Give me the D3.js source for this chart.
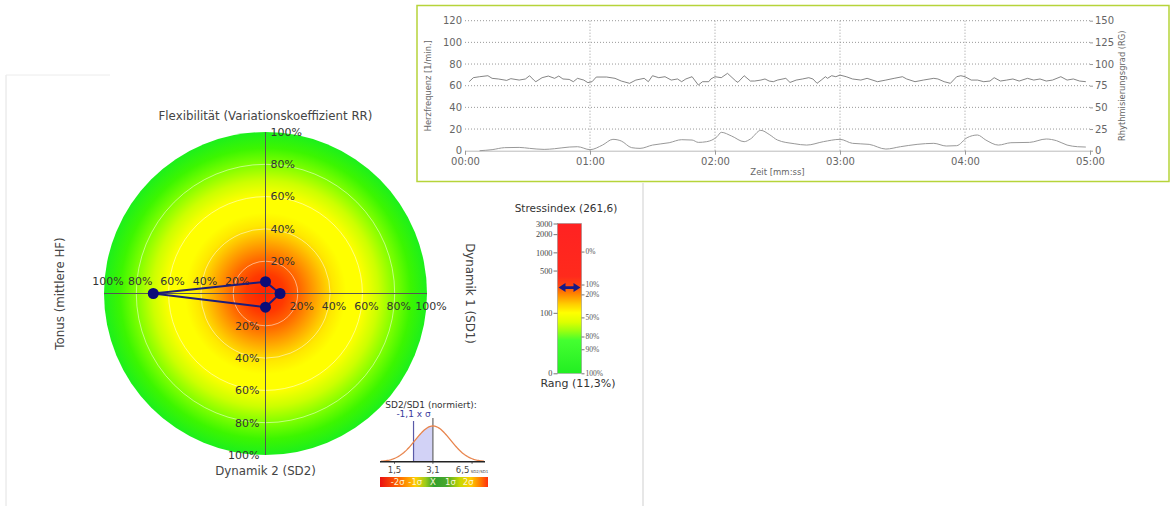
<!DOCTYPE html>
<html>
<head>
<meta charset="utf-8">
<script src="https://cdnjs.cloudflare.com/ajax/libs/d3/7.8.5/d3.min.js"></script>
<style>
  body { margin: 0; background: #fff; }
  svg text { font-family: "DejaVu Sans", Verdana, sans-serif; }
</style>
</head>
<body>
<svg id="chart" width="1172" height="506"></svg>
<script>
// ---------- data ----------
// herzfrequenz (top line), seconds / bpm
var hrSeconds = [2, 4, 7, 11, 13, 16, 20, 22, 26, 29,
	31, 33, 34, 37, 40, 43, 45, 47, 50, 52,
	54, 57, 59, 61, 63, 68, 72, 75, 79, 82,
	86, 88, 90, 93, 96, 99, 102, 104, 106, 109,
	112, 114, 117, 118, 120, 123, 126, 130, 131, 134,
	137, 139, 142, 144, 146, 148, 150, 154, 156, 159,
	162, 165, 167, 169, 171, 173, 174, 176, 178, 180,
	183, 186, 190, 193, 198, 202, 206, 210, 212, 216,
	220, 225, 227, 230, 233, 236, 238, 240, 243, 246,
	249, 252, 254, 257, 260, 263, 266, 270, 273, 276,
	279, 282, 286, 289, 292, 295, 298];
var hrValues = [63.7, 67.4, 68.3, 69.2, 66.8, 66.2, 64.9, 66.5, 65.2, 66.2,
	69.2, 65.2, 63.7, 67.4, 68.9, 66.8, 68.9, 66.2, 65.8, 63.7,
	66.8, 65.2, 62.8, 63.7, 68.0, 68.0, 66.8, 64.3, 62.2, 65.2,
	66.8, 63.7, 69.2, 67.4, 68.3, 65.2, 66.2, 63.7, 66.2, 68.3,
	60.6, 63.7, 63.7, 66.2, 68.3, 67.4, 71.4, 64.3, 63.1, 69.2,
	64.3, 64.3, 65.2, 66.2, 64.3, 63.7, 65.2, 66.8, 63.0, 65.2,
	66.2, 67.4, 66.2, 62.2, 65.2, 68.3, 66.8, 69.2, 68.3, 69.8,
	68.3, 66.2, 65.2, 66.8, 63.7, 65.2, 66.8, 68.3, 66.2, 63.7,
	65.2, 66.8, 66.2, 63.7, 62.2, 68.3, 69.2, 68.3, 65.2, 65.2,
	63.7, 64.3, 67.4, 64.3, 65.2, 66.2, 64.3, 66.8, 65.2, 66.2,
	64.3, 65.2, 68.3, 65.2, 66.2, 64.3, 63.7];

// rhythmisierungsgrad (bottom line), seconds / RG
var rgSeconds = [7, 13, 19, 26, 31, 38, 43, 50, 54, 60,
	66, 71, 75, 80, 84, 90, 98, 104, 109, 112,
	116, 121, 123, 128, 134, 137, 142, 146, 150, 158,
	164, 172, 180, 186, 194, 202, 209, 217, 225, 231,
	236, 241, 246, 250, 256, 262, 271, 279, 284, 289,
	294, 298];
var rgValues = [0, 1.2, 3.5, 3.8, 2.7, 1.5, 2.3, 4.2, 4.6, 1.2,
	6.5, 13.1, 11.2, 3.5, 2.7, 6.5, 9.2, 12.7, 12.3, 9.6,
	10.4, 16.2, 21.2, 16.9, 10.4, 13.5, 23.5, 18.8, 12.3, 8.1,
	6.5, 10.4, 13.1, 8.5, 7.3, 1.9, 4.6, 7.3, 8.5, 5.4,
	5.8, 15.0, 18.1, 12.3, 6.5, 9.2, 9.6, 13.5, 11.5, 6.5,
	4.6, 4.2];

var xTickSeconds = [0, 60, 120, 180, 240, 300];
var xTickLabels = ['00:00', '01:00', '02:00', '03:00', '04:00', '05:00'];
var leftTicks = [0, 20, 40, 60, 80, 100, 120];
var rightTicks = [0, 25, 50, 75, 100, 125, 150];

// polar chart (top, right, bottom, left)
var polarAxes = ['Flexibilität (Variationskoeffizient RR)', 'Dynamik 1 (SD1)',
	'Dynamik 2 (SD2)', 'Tonus (mittlere HF)'];
var polarValues = [7.3, 9.0, 8.5, 69.5];
var ringTicks = [20, 40, 60, 80, 100];

// stressindex
var stressValue = 261.6;
var stressTicks = [10, 100, 500, 1000, 2000, 3000];
var stressTickLabels = ['0', '100', '500', '1000', '2000', '3000'];
var rankStress = [1030, 294, 202, 84, 40.6, 25, 10];
var rankLabels = ['0%', '10%', '20%', '50%', '80%', '90%', '100%'];
var rankValue = 11.3;

// SD2/SD1 normiert
var sdMean = 3.1;
var sdSigmaLn = 0.333;
var sdZ = -1.1;
var sdTicks = [1.5, 3.1, 6.5];
var sdTickLabels = ['1,5', '3,1', '6,5'];
var sigmaSteps = [-2, -1, 0, 1, 2];
var sigmaLabels = ['-2σ', '-1σ', 'X̄', '1σ', '2σ'];

var fmt = function(v) { return String(v).replace('.', ','); };

var svg = d3.select('#chart');
var defs = svg.append('defs');

// ---------- panel frame ----------
svg.append('line').attr('x1', 6).attr('x2', 6).attr('y1', 75).attr('y2', 506)
	.attr('stroke', '#e2e2e2');
svg.append('line').attr('x1', 6).attr('x2', 110).attr('y1', 75).attr('y2', 75)
	.attr('stroke', '#ececec');
svg.append('line').attr('x1', 643).attr('x2', 643).attr('y1', 183).attr('y2', 506)
	.attr('stroke', '#cfcfcf');

// ---------- line chart (top right) ----------
var lc = {left: 465, right: 1090, top: 20.7, bottom: 150.7};

svg.append('rect')
	.attr('x', 417).attr('y', 5.5).attr('width', 752).attr('height', 176)
	.attr('fill', '#fff').attr('stroke', '#b6d43a').attr('stroke-width', 1.5);

var x = d3.scaleLinear().domain([0, 300]).range([lc.left, lc.right]);
var yL = d3.scaleLinear().domain([0, 120]).range([lc.bottom, lc.top]);
var yR = d3.scaleLinear().domain([0, 150]).range([lc.bottom, lc.top]);

var lineChart = svg.append('g');

// grid
lineChart.selectAll('.hgrid')
	.data(leftTicks.filter(function(d) { return d > 0; }))
.enter().append('line')
	.attr('x1', lc.left).attr('x2', lc.right)
	.attr('y1', function(d) { return yL(d); })
	.attr('y2', function(d) { return yL(d); })
	.attr('stroke', '#999').attr('stroke-dasharray', '1,2');

lineChart.selectAll('.vgrid')
	.data(xTickSeconds.slice(1, -1))
.enter().append('line')
	.attr('x1', function(d) { return x(d); })
	.attr('x2', function(d) { return x(d); })
	.attr('y1', lc.top).attr('y2', lc.bottom)
	.attr('stroke', '#999').attr('stroke-dasharray', '1,2');

// axes
var xAxis = d3.axisBottom(x).tickValues(xTickSeconds)
	.tickFormat(function(d, i) { return xTickLabels[i]; })
	.tickSize(4).tickPadding(3);
var gx = lineChart.append('g')
	.attr('transform', 'translate(0,' + lc.bottom + ')')
	.call(xAxis);
gx.select('.domain').attr('stroke', '#bbb');

var gyl = lineChart.append('g')
	.attr('transform', 'translate(' + lc.left + ',0)')
	.call(d3.axisLeft(yL).tickValues(leftTicks).tickSize(0).tickPadding(3));
var gyr = lineChart.append('g')
	.attr('transform', 'translate(' + lc.right + ',0)')
	.call(d3.axisRight(yR).tickValues(rightTicks).tickSize(3).tickPadding(2));
gyl.select('.domain').remove();
gyr.select('.domain').remove();

lineChart.selectAll('.tick text')
	.attr('fill', '#666').style('font-size', '10px')
	.style('font-family', '"DejaVu Sans", Verdana, sans-serif');
lineChart.selectAll('.tick line').attr('stroke', '#999');

// titles
lineChart.append('text')
	.attr('x', (lc.left + lc.right) / 2).attr('y', 175)
	.attr('text-anchor', 'middle').attr('fill', '#666')
	.style('font-size', '8.5px').text('Zeit [mm:ss]');
lineChart.append('text')
	.attr('transform', 'translate(431,' + (lc.top + lc.bottom) / 2 + ') rotate(-90)')
	.attr('text-anchor', 'middle').attr('fill', '#666')
	.style('font-size', '8.3px').text('Herzfrequenz [1/min.]');
lineChart.append('text')
	.attr('transform', 'translate(1125,' + (lc.top + lc.bottom) / 2 + ') rotate(-90)')
	.attr('text-anchor', 'middle').attr('fill', '#666')
	.style('font-size', '8.3px').text('Rhythmisierungsgrad (RG)');

// lines
var hrLine = d3.line()
	.x(function(d, i) { return x(hrSeconds[i]); })
	.y(function(d) { return yL(d); });
lineChart.append('path')
	.attr('d', hrLine(hrValues))
	.attr('fill', 'none').attr('stroke', '#666').attr('stroke-width', 0.8);

var rgLine = d3.line()
	.x(function(d, i) { return x(rgSeconds[i]); })
	.y(function(d) { return yR(d); })
	.curve(d3.curveMonotoneX);
lineChart.append('path')
	.attr('d', rgLine(rgValues))
	.attr('fill', 'none').attr('stroke', '#999').attr('stroke-width', 1);

// ---------- polar chart ----------
var cx = 265.5, cy = 293.5, R = 161.5;
var r = d3.scaleLinear().domain([0, 100]).range([0, R]);
var angle = function(i) { return (-90 + i * 90) * Math.PI / 180; };

var rg = defs.append('radialGradient').attr('id', 'polarGrad')
	.attr('gradientUnits', 'userSpaceOnUse')
	.attr('cx', cx).attr('cy', cy).attr('r', R);
[[0, '#ff2000'], [0.12, '#ff3a00'], [0.22, '#ff6c00'], [0.32, '#ffaa00'],
 [0.42, '#ffe800'], [0.5, '#ffff00'], [0.6, '#ffff00'], [0.7, '#ccff00'],
 [0.8, '#80ff00'], [0.9, '#3cf600'], [1, '#1cf01c']].forEach(function(s) {
	rg.append('stop').attr('offset', s[0]).attr('stop-color', s[1]);
});

var polar = svg.append('g');
polar.append('circle').attr('cx', cx).attr('cy', cy).attr('r', r(100))
	.attr('fill', 'url(#polarGrad)');

polar.selectAll('.ring')
	.data(ringTicks.slice(0, -1))
.enter().append('circle')
	.attr('cx', cx).attr('cy', cy)
	.attr('r', function(d) { return r(d); })
	.attr('fill', 'none').attr('stroke', 'rgba(255,255,255,0.5)').attr('stroke-width', 1);

polar.append('line').attr('x1', cx).attr('x2', cx)
	.attr('y1', cy - r(100)).attr('y2', cy + r(100)).attr('stroke', '#555');
polar.append('line').attr('y1', cy).attr('y2', cy)
	.attr('x1', cx - r(100)).attr('x2', cx + r(100)).attr('stroke', '#555');

var tickStyle = function(sel) {
	sel.attr('fill', '#333').style('font-size', '11px')
		.text(function(d) { return d + '%'; });
};
// top
polar.selectAll('.tTop').data(ringTicks).enter().append('text')
	.attr('x', cx + 5).attr('y', function(d) { return cy - r(d); })
	.attr('dy', '0.35em').call(tickStyle);
// right
polar.selectAll('.tRight').data(ringTicks).enter().append('text')
	.attr('x', function(d) { return cx + r(d) + 4; }).attr('y', cy + 13)
	.attr('dy', '0.35em').attr('text-anchor', 'middle').call(tickStyle);
// bottom
polar.selectAll('.tBottom').data(ringTicks).enter().append('text')
	.attr('x', cx - 6).attr('y', function(d) { return cy + r(d); })
	.attr('dy', '0.35em').attr('text-anchor', 'end').call(tickStyle);
// left
polar.selectAll('.tLeft').data(ringTicks).enter().append('text')
	.attr('x', function(d) { return cx - r(d) + 4; }).attr('y', cy - 12)
	.attr('dy', '0.35em').attr('text-anchor', 'middle').call(tickStyle);

// axis titles
var titleStyle = function(sel) {
	sel.attr('fill', '#444').attr('text-anchor', 'middle').style('font-size', '11.8px');
};
polar.append('text').attr('x', cx).attr('y', 116).attr('dy', '0.35em')
	.text(polarAxes[0]).call(titleStyle);
polar.append('text').attr('transform', 'translate(470,' + cy + ') rotate(90)')
	.attr('dy', '0.35em').text(polarAxes[1]).call(titleStyle);
polar.append('text').attr('x', cx).attr('y', 471).attr('dy', '0.35em')
	.text(polarAxes[2]).call(titleStyle);
polar.append('text').attr('transform', 'translate(60,' + cy + ') rotate(-90)')
	.attr('dy', '0.35em').text(polarAxes[3]).call(titleStyle);

// profile
var pts = polarValues.map(function(v, i) {
	return [cx + r(v) * Math.cos(angle(i)), cy + r(v) * Math.sin(angle(i))];
});
polar.append('path')
	.attr('d', d3.line().curve(d3.curveLinearClosed)(pts))
	.attr('fill', 'none').attr('stroke', '#1c1c7a').attr('stroke-width', 2);
polar.selectAll('.dot').data(pts).enter().append('circle')
	.attr('cx', function(d) { return d[0]; })
	.attr('cy', function(d) { return d[1]; })
	.attr('r', 5.5).attr('fill', '#0c0c78');

// ---------- stressindex ----------
var bar = {x0: 557.5, x1: 581.5};
var sy = d3.scaleLog().domain([10, 3000]).range([373.3, 223.5]);

var sg = defs.append('linearGradient').attr('id', 'stressGrad')
	.attr('gradientUnits', 'userSpaceOnUse')
	.attr('x1', 0).attr('x2', 0).attr('y1', sy(3000)).attr('y2', sy(10));
[[3000, '#ff2222'], [400, '#ff2a1c'], [290, '#ff4212'], [210, '#ff8000'],
 [140, '#ffcc00'], [100, '#ffff00'], [70, '#ddff00'], [50, '#99ff10'],
 [35, '#44ff30'], [10, '#22ee22']].forEach(function(s) {
	sg.append('stop')
		.attr('offset', (sy(s[0]) - sy(3000)) / (sy(10) - sy(3000)))
		.attr('stop-color', s[1]);
});

var stress = svg.append('g');
stress.append('rect')
	.attr('x', bar.x0).attr('y', sy(3000))
	.attr('width', bar.x1 - bar.x0).attr('height', sy(10) - sy(3000))
	.attr('fill', 'url(#stressGrad)').attr('stroke', '#888').attr('stroke-width', 0.5);

var sl = stress.append('g').attr('transform', 'translate(' + bar.x0 + ',0)')
	.call(d3.axisLeft(sy).tickValues(stressTicks)
		.tickFormat(function(d, i) { return stressTickLabels[i]; })
		.tickSize(4).tickPadding(1));
var sr = stress.append('g').attr('transform', 'translate(' + bar.x1 + ',0)')
	.call(d3.axisRight(sy).tickValues(rankStress)
		.tickFormat(function(d, i) { return rankLabels[i]; })
		.tickSize(3).tickPadding(1));
stress.selectAll('.domain').remove();
stress.selectAll('.tick line').attr('stroke', '#777');
sl.selectAll('.tick text').attr('fill', '#444').style('font-size', '8.3px')
	.style('font-family', '"Liberation Serif", serif');
sr.selectAll('.tick text').attr('fill', '#555').style('font-size', '7.5px')
	.style('font-family', '"Liberation Serif", serif');

stress.append('text').attr('x', 566).attr('y', 208).attr('dy', '0.35em')
	.attr('text-anchor', 'middle').attr('fill', '#333').style('font-size', '10.5px')
	.text('Stressindex (' + fmt(stressValue) + ')');
stress.append('text').attr('x', 578).attr('y', 383).attr('dy', '0.35em')
	.attr('text-anchor', 'middle').attr('fill', '#333').style('font-size', '11px')
	.text('Rang (' + fmt(rankValue) + '%)');

var my = sy(stressValue), ax0 = bar.x0 + 1, ax1 = bar.x1 - 1;
stress.append('path')
	.attr('d', 'M' + ax0 + ',' + my + 'L' + (ax0 + 7) + ',' + (my - 4.5) +
		'L' + (ax0 + 7) + ',' + (my - 1.4) + 'L' + (ax1 - 7) + ',' + (my - 1.4) +
		'L' + (ax1 - 7) + ',' + (my - 4.5) + 'L' + ax1 + ',' + my +
		'L' + (ax1 - 7) + ',' + (my + 4.5) + 'L' + (ax1 - 7) + ',' + (my + 1.4) +
		'L' + (ax0 + 7) + ',' + (my + 1.4) + 'L' + (ax0 + 7) + ',' + (my + 4.5) + 'Z')
	.attr('fill', '#1a1a86');

// ---------- SD2/SD1 ----------
var sx = d3.scaleLog().domain([1.14, 8.3]).range([380, 485]);
var sdBase = 461.7;
var dy = d3.scaleLinear().domain([0, 1]).range([sdBase, sdBase - 35.7]);
var dens = function(v) {
	var z = (Math.log(v) - Math.log(sdMean)) / sdSigmaLn;
	return Math.exp(-0.5 * z * z);
};
var sdMark = sdMean * Math.exp(sdZ * sdSigmaLn);
var sdAt = function(k) { return sdMean * Math.exp(k * sdSigmaLn); };

var sd = svg.append('g');
var curveX = d3.range(0, 101).map(function(i) {
	return sx.invert(381 + i * 1.03);
});
var fillX = curveX.filter(function(v) { return v >= sdMark && v <= sdMean; });
fillX.unshift(sdMark); fillX.push(sdMean);

sd.append('path')
	.attr('d', d3.area()
		.x(function(d) { return sx(d); })
		.y0(sdBase).y1(function(d) { return dy(dens(d)); })(fillX))
	.attr('fill', '#d2d2f6');
sd.append('line').attr('x1', sx(sdMark)).attr('x2', sx(sdMark))
	.attr('y1', sdBase).attr('y2', 421).attr('stroke', '#5a5aa8').attr('stroke-width', 1.2);
sd.append('line').attr('x1', sx(sdMean)).attr('x2', sx(sdMean))
	.attr('y1', sdBase).attr('y2', 418).attr('stroke', '#666').attr('stroke-width', 1.2);
sd.append('path')
	.attr('d', d3.line()
		.x(function(d) { return sx(d); })
		.y(function(d) { return dy(dens(d)); })(curveX))
	.attr('fill', 'none').attr('stroke', '#e8844c').attr('stroke-width', 1.3);
sd.append('line').attr('x1', 380).attr('x2', 485).attr('y1', sdBase).attr('y2', sdBase)
	.attr('stroke', '#222').attr('stroke-width', 1.5);
sd.selectAll('.sdtick').data(sdTicks).enter().append('line')
	.attr('x1', function(d) { return sx(d); }).attr('x2', function(d) { return sx(d); })
	.attr('y1', sdBase).attr('y2', sdBase + 2).attr('stroke', '#444');

sd.selectAll('.sdlab').data(sdTicks).enter().append('text')
	.attr('x', function(d) { return sx(d); }).attr('y', 470).attr('dy', '0.35em')
	.attr('text-anchor', 'middle').attr('fill', '#444').style('font-size', '8.5px')
	.each(function(d, i) {
		var t = d3.select(this).text(sdTickLabels[i]);
		if (i === sdTicks.length - 1) {
			t.append('tspan').style('font-size', '4px').text(' SD2/SD1');
		}
	});

sd.append('text').attr('x', 431).attr('y', 405).attr('dy', '0.35em')
	.attr('text-anchor', 'middle').attr('fill', '#333').style('font-size', '9px')
	.text('SD2/SD1 (normiert):');
sd.append('text').attr('x', sx(sdMark)).attr('y', 414).attr('dy', '0.35em')
	.attr('text-anchor', 'middle').attr('fill', '#3a3a9c').style('font-size', '9px')
	.text(fmt(sdZ) + ' x σ');

var cg = defs.append('linearGradient').attr('id', 'sdGrad')
	.attr('x1', 0).attr('x2', 1).attr('y1', 0).attr('y2', 0);
[[0, '#ea1010'], [0.18, '#ff6a00'], [0.33, '#ffcc00'], [0.42, '#9ccc1a'],
 [0.5, '#2f9f2f'], [0.62, '#4aa82a'], [0.74, '#c8d800'], [0.84, '#ffcc00'],
 [0.93, '#ff7a00'], [1, '#ff3010']].forEach(function(s) {
	cg.append('stop').attr('offset', s[0]).attr('stop-color', s[1]);
});
sd.append('rect').attr('x', 380).attr('y', 477).attr('width', 108).attr('height', 10)
	.attr('fill', 'url(#sdGrad)');
sd.selectAll('.sig').data(sigmaSteps).enter().append('text')
	.attr('x', function(d) { return sx(sdAt(d)); }).attr('y', 482).attr('dy', '0.35em')
	.attr('text-anchor', 'middle').attr('fill', '#fbf7d8').style('font-size', '8.5px')
	.text(function(d, i) { return sigmaLabels[i]; });
</script>
</body>
</html>
